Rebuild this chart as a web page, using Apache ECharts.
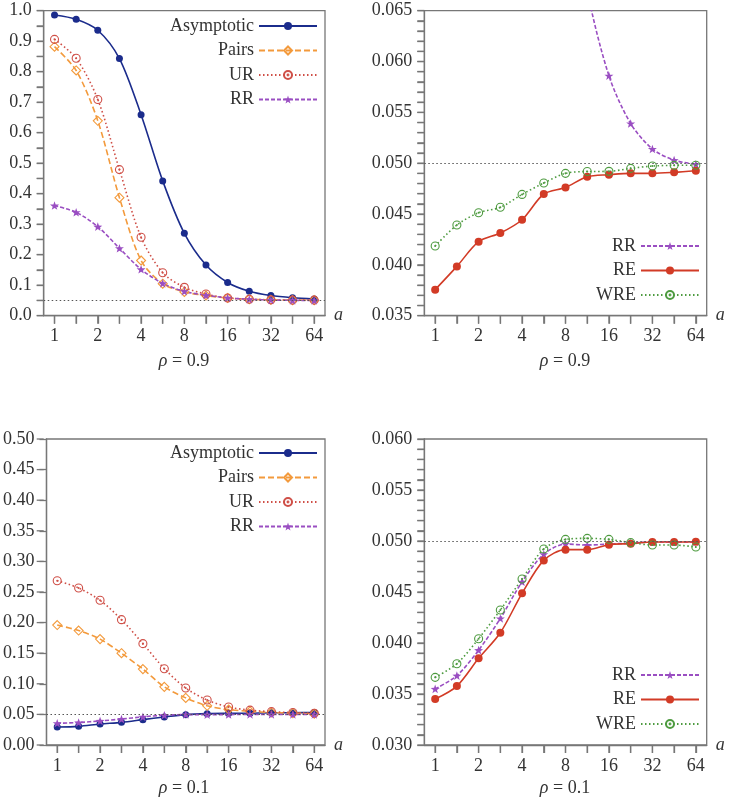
<!DOCTYPE html>
<html>
<head>
<meta charset="utf-8">
<script src="https://cdn.jsdelivr.net/npm/echarts@6/dist/echarts.min.js"></script>
<style>html,body{margin:0;padding:0;background:#fff;}#c{width:732px;height:804px;}</style>
</head>
<body>
<div id="c"></div>
<script>
// ---- data ----
var categories = ['1','1.41','2','2.83','4','5.66','8','11.3','16','22.6','32','45.3','64'];
// rho = 0.9
var asym09  = [0.986, 0.972, 0.936, 0.843, 0.659, 0.442, 0.270, 0.166, 0.109, 0.080, 0.066, 0.059, 0.055];
var pairs09 = [0.882, 0.804, 0.639, 0.387, 0.181, 0.105, 0.078, 0.066, 0.058, 0.054, 0.052, 0.051, 0.051];
var ur09    = [0.906, 0.844, 0.709, 0.479, 0.257, 0.141, 0.093, 0.071, 0.058, 0.054, 0.052, 0.051, 0.051];
var rr09    = [0.361, 0.339, 0.292, 0.221, 0.152, 0.106, 0.080, 0.067, 0.0586, 0.0539, 0.0514, 0.0503, 0.0499];
var re09    = [0.03756, 0.03985, 0.04228, 0.04313, 0.04444, 0.04697, 0.04762, 0.04867, 0.04887, 0.0490, 0.0490, 0.0491, 0.04926];
var wre09   = [0.04185, 0.04392, 0.04513, 0.04566, 0.04693, 0.04805, 0.0490, 0.04918, 0.0492, 0.04949, 0.04972, 0.04979, 0.0498];
// rho = 0.1
var asym01  = [0.0294, 0.0305, 0.0343, 0.0370, 0.0414, 0.0458, 0.0496, 0.0512, 0.0517, 0.0520, 0.0528, 0.0528, 0.0530];
var pairs01 = [0.196, 0.187, 0.173, 0.150, 0.124, 0.095, 0.077, 0.064, 0.058, 0.055, 0.053, 0.052, 0.051];
var ur01    = [0.2685, 0.2565, 0.2364, 0.2048, 0.1656, 0.1247, 0.0931, 0.0735, 0.062, 0.057, 0.0545, 0.053, 0.052];
var rr01    = [0.0355, 0.0368, 0.0393, 0.0424, 0.0460, 0.0487, 0.0497, 0.0496, 0.0497, 0.0498, 0.0499, 0.0499, 0.0499];
var re01    = [0.03451, 0.03578, 0.0385, 0.04101, 0.04487, 0.0481, 0.04915, 0.04915, 0.04964, 0.04974, 0.0499, 0.0499, 0.04993];
var wre01   = [0.03663, 0.03797, 0.04042, 0.04324, 0.04627, 0.04922, 0.05016, 0.05026, 0.05016, 0.04984, 0.04961, 0.04961, 0.04941];
var nominal = 0.05;
var panelTitles = ['0.9', '0.9', '0.1', '0.1'];

// ---- styling ----
var FONT = '"Liberation Serif", "DejaVu Serif", serif';
var TXT = '#333';
var AX = '#777';
var C = {asym:'#1b2c8c', pairs:'#f39a3c', ur:'#cf4f47', rr:'#9a4ec2', re:'#d23b26', wre:'#4e9b40'};
var STAR = 'path://M0,-10 L2.35,-3.24 L9.51,-3.09 L3.8,1.24 L5.88,8.09 L0,4 L-5.88,8.09 L-3.8,1.24 L-9.51,-3.09 L-2.35,-3.24 Z';
var CDOT = 'path://M0,-10A10,10 0 1,1 0,10A10,10 0 1,1 0,-10Z M0,-1.2A1.2,1.2 0 1,1 0,1.2A1.2,1.2 0 1,1 0,-1.2Z';

var grids = [
  {left:43.7, top:10.7, width:281.3, height:305},
  {left:424.3, top:10.7, width:282.4, height:305},
  {left:43.7, top:439, width:281.3, height:306},
  {left:424.3, top:439, width:282.4, height:306}
];
var yCfg = [
  {min:0, max:1, interval:0.1, dec:1, minor:2},
  {min:0.035, max:0.065, interval:0.005, dec:3, minor:5},
  {min:0, max:0.5, interval:0.05, dec:2, minor:0},
  {min:0.03, max:0.06, interval:0.005, dec:3, minor:5}
];

var titleGraphics = [
  {x:184, y:361}, {x:565, y:361}, {x:184, y:788}, {x:565, y:788}
].map(function(p,i){ return {type:'text', x:p.x, y:p.y, silent:true, style:{
    text:'{i|ρ} = ' + panelTitles[i], align:'center', verticalAlign:'middle',
    font:'18px ' + FONT, fill:TXT,
    rich:{i:{fontStyle:'italic', fontSize:18, fontFamily:FONT, fill:TXT}}
}};});

var option = {
  animation:false,
  textStyle:{fontFamily:FONT},
  grid: grids.map(function(g){ return Object.assign({show:true, borderColor:AX, borderWidth:1.3}, g); }),
  xAxis: grids.map(function(g,i){ return {
    type:'category', gridIndex:i, data:categories, boundaryGap:true,
    name:'a', nameLocation:'end', nameGap:9,
    nameTextStyle:{fontFamily:FONT, fontStyle:'italic', fontSize:18, color:TXT},
    axisLine:{show:true, lineStyle:{color:AX, width:1.3}},
    axisTick:{show:true, alignWithLabel:true, interval:0, length:8, lineStyle:{color:AX, width:1.3}},
    axisLabel:{show:true, interval:1, margin:12, fontFamily:FONT, fontSize:18, color:TXT}
  };}),
  yAxis: yCfg.map(function(y,i){
    var a = {
      type:'value', gridIndex:i, min:y.min, max:y.max, interval:y.interval,
      axisLine:{show:true, lineStyle:{color:AX, width:1.3}},
      axisTick:{show:true, length:7, lineStyle:{color:AX, width:1.3}},
      axisLabel:{margin:12, fontFamily:FONT, fontSize:18, color:TXT, formatter:function(v){return v.toFixed(y.dec);}},
      splitLine:{show:false}
    };
    if (y.minor > 0) a.minorTick = {show:true, splitNumber:y.minor, length:7, lineStyle:{color:AX, width:1.3}};
    return a;
  }),
  legend: [
    {data:['Asymptotic','Pairs','UR','RR'], right:414, top:17},
    {data:['RR','RE','WRE'], right:32, top:237},
    {data:['Asymptotic','Pairs','UR','RR'], right:414, top:444},
    {data:['RR','RE','WRE'], right:32, top:666}
  ].map(function(l){ return Object.assign({orient:'vertical', align:'right', padding:0, itemWidth:58, itemHeight:10, itemGap:6.5,
      textStyle:{fontFamily:FONT, fontSize:18, color:TXT, lineHeight:18}, selectedMode:false}, l); }),
  graphic: titleGraphics,
  series: []
};

function mk(name, data, gi, kind, extra){
  var base = {name:name, type:'line', xAxisIndex:gi, yAxisIndex:gi, data:data, smooth:0.3, showAllSymbol:true};
  var s;
  if (kind==='asym') s = {symbol:'circle', symbolSize:7, lineStyle:{color:C.asym, width:1.6, type:'solid'}, itemStyle:{color:C.asym}};
  if (kind==='pairs') s = {symbol:'diamond', symbolSize:9, lineStyle:{color:C.pairs, width:1.6, type:[6,3]}, itemStyle:{color:'rgba(255,255,255,0)', borderColor:C.pairs, borderWidth:1.1}};
  if (kind==='ur') s = {symbol:CDOT, symbolSize:8, symbolKeepAspect:true, lineStyle:{color:C.ur, width:1.6, type:[1.5,2.5]}, itemStyle:{color:'rgba(255,255,255,0)', borderColor:C.ur, borderWidth:1.1}};
  if (kind==='rr') s = {symbol:STAR, symbolSize:9, symbolKeepAspect:true, lineStyle:{color:C.rr, width:1.6, type:[4,2]}, itemStyle:{color:C.rr}};
  if (kind==='re') s = {symbol:'circle', symbolSize:8, lineStyle:{color:C.re, width:1.6, type:'solid'}, itemStyle:{color:C.re}};
  if (kind==='wre') s = {symbol:CDOT, symbolSize:8, symbolKeepAspect:true, lineStyle:{color:C.wre, width:1.6, type:[1.5,2.5]}, itemStyle:{color:'rgba(255,255,255,0)', borderColor:C.wre, borderWidth:1.1}};
  return Object.assign(base, s, extra||{});
}
function ref(){
  return {markLine:{silent:true, symbol:['none','none'], label:{show:false},
    lineStyle:{color:'#555', width:1.2, type:[1.5,2.5]}, data:[{yAxis:nominal}]}};
}

option.series.push(
  mk('Asymptotic', asym09, 0, 'asym', ref()),
  mk('Pairs', pairs09, 0, 'pairs'),
  mk('UR', ur09, 0, 'ur'),
  mk('RR', rr09, 0, 'rr'),
  mk('RR', rr09, 1, 'rr', ref()),
  mk('RE', re09, 1, 're'),
  mk('WRE', wre09, 1, 'wre'),
  mk('Asymptotic', asym01, 2, 'asym', ref()),
  mk('Pairs', pairs01, 2, 'pairs'),
  mk('UR', ur01, 2, 'ur'),
  mk('RR', rr01, 2, 'rr'),
  mk('RR', rr01, 3, 'rr', ref()),
  mk('RE', re01, 3, 're'),
  mk('WRE', wre01, 3, 'wre')
);

var chart = echarts.init(document.getElementById('c'));
chart.setOption(option);

// Outward tick marks placed through the library's own axis scales
var tickGraphics = [];
function tick(x1, y1, x2, y2){
  tickGraphics.push({type:'line', silent:true, z:10,
    shape:{x1:x1, y1:y1, x2:x2, y2:y2}, style:{stroke:AX, lineWidth:1.3}});
}
grids.forEach(function(g, i){
  var bottom = g.top + g.height, left = g.left;
  for (var k = 0; k < categories.length; k++) {
    var px = chart.convertToPixel({xAxisIndex:i}, k);
    if (isFinite(px)) tick(px, bottom, px, bottom + 8);
  }
  var y = yCfg[i];
  var steps = Math.round((y.max - y.min) / y.interval);
  var sub = y.minor > 0 ? y.minor : 1;
  for (var m = 0; m <= steps * sub; m++) {
    var v = y.min + m * y.interval / sub;
    var py = chart.convertToPixel({yAxisIndex:i}, v);
    if (isFinite(py)) tick(left - 7, py, left, py);
  }
});
chart.setOption({graphic: titleGraphics.concat(tickGraphics)});
</script>
</body>
</html>
